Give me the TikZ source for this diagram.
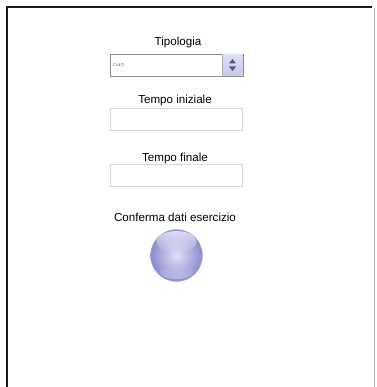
\documentclass[tikz,border=0pt]{standalone}
\usepackage{fontspec}
\setmainfont{Liberation Sans}
\usetikzlibrary{fadings}
\definecolor{boxgray}{HTML}{D8D8D8}
\definecolor{lav}{HTML}{C8C8F0}
\definecolor{lavdark}{HTML}{8A8AD0}
\definecolor{arrowc}{HTML}{555570}
\tikzset{
  lbl/.style={font=\fontsize{11.6}{13}\selectfont, inner sep=0pt, anchor=base},
  field/.style={draw=boxgray, line width=0.8pt, minimum width=132pt, minimum height=22pt, inner sep=0pt, anchor=north west},
}
\begin{document}
\begin{tikzpicture}[x=1pt,y=-1pt]
\useasboundingbox (0,0) rectangle (376,387);
\fill[white] (0,0) rectangle (376,387);
% frame
\draw[black!90, line width=2pt] (7,387) -- (7,7) -- (372,7);
\draw[black!30, line width=0.7pt] (374.5,8) -- (374.5,387);
% Tipologia
\node[lbl] (tip) at (178,46) {Tipologia};
\node[field, draw=black!45, minimum width=133pt] (drop) at (110,54) {};
\shade[top color=lav!60, bottom color=lav] (222,54.5) rectangle (242.5,75.5);
\draw[black!30, line width=0.5pt] (222,54.5) -- (222,75.5);
\node[font=\fontsize{4}{5}\selectfont, anchor=west, inner sep=0pt, text=black!70] (culti) at (113,65.5) {CULTI};
\fill[arrowc] (229,63.5) -- (236,63.5) -- (232.5,59) -- cycle;
\fill[arrowc] (229,66.5) -- (236,66.5) -- (232.5,71) -- cycle;
% Tempo iniziale
\node[lbl] (ti) at (175,104) {Tempo iniziale};
\node[field] (tibox) at (110,108) {};
% Tempo finale
\node[lbl] (tf) at (175,161) {Tempo finale};
\node[field] (tfbox) at (110,164) {};
% Conferma
\node[lbl] (conf) at (175,221) {Conferma dati esercizio};
\shade[inner color=lav!55, outer color=lavdark, draw=lavdark!70] (176.5,255.5) circle[radius=26];
\fill[white, opacity=0.7, path fading=south] (176.5,242) ellipse[x radius=20, y radius=11];
\fill[white, opacity=0.35, path fading=north] (176.5,272) ellipse[x radius=17, y radius=7];
\end{tikzpicture}
\end{document}
